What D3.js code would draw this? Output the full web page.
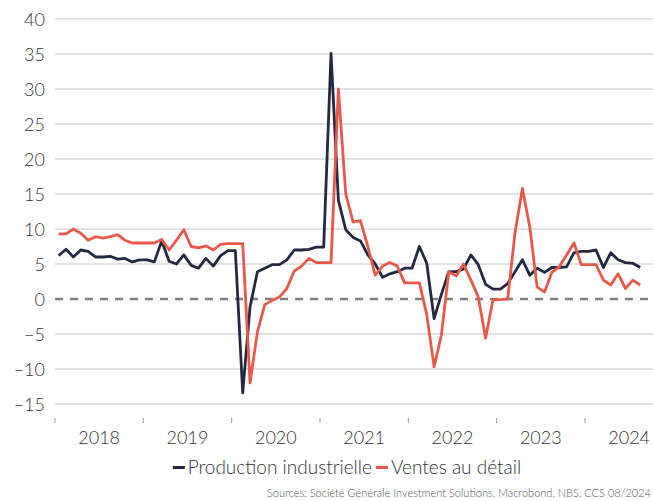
<!DOCTYPE html>
<html lang="fr">
<head>
<meta charset="utf-8" />
<script src="https://cdn.jsdelivr.net/npm/d3@7"></script>
<style>
  body { margin: 0; background: #fff; }
  text { font-family: Lato, "Open Sans", sans-serif; font-weight: 300; }
  .grid line { stroke: #c8c8c8; stroke-width: 1; }
</style>
</head>
<body>
<script>
// monthly data, Jan 2018 .. Aug 2024 (Jan carries the previous value)
var years = ["2018", "2019", "2020", "2021", "2022", "2023", "2024"];
var yTicks = [-15, -10, -5, 0, 5, 10, 15, 20, 25, 30, 35, 40];

var production = [
  6.2, 7.1, 6.0, 7.0, 6.8, 6.0, 6.0, 6.1, 5.7, 5.8, 5.3, 5.6,
  5.6, 5.3, 8.3, 5.4, 5.0, 6.3, 4.8, 4.4, 5.8, 4.7, 6.2, 6.9,
  6.9, -13.4, -1.1, 3.9, 4.4, 4.9, 4.9, 5.6, 7.0, 7.0, 7.1, 7.4,
  7.4, 35.1, 14.1, 9.9, 8.8, 8.3, 6.3, 5.0, 3.1, 3.6, 3.9, 4.4,
  4.4, 7.5, 5.1, -2.8, 0.7, 3.9, 3.9, 4.3, 6.3, 4.9, 2.1, 1.4,
  1.4, 2.2, 3.9, 5.6, 3.4, 4.4, 3.8, 4.5, 4.5, 4.6, 6.6, 6.8,
  6.8, 7.0, 4.5, 6.6, 5.6, 5.2, 5.1, 4.5
];

var retail = [
  9.3, 9.3, 10.0, 9.4, 8.4, 8.9, 8.7, 8.9, 9.2, 8.4, 8.0, 8.0,
  8.0, 8.0, 8.5, 7.0, 8.4, 9.9, 7.5, 7.3, 7.6, 7.0, 7.8, 7.9,
  7.9, 7.9, -12.0, -4.7, -0.8, -0.2, 0.3, 1.5, 4.0, 4.7, 5.8, 5.2,
  5.2, 5.2, 30.0, 15.0, 11.0, 11.2, 7.5, 3.4, 4.7, 5.2, 4.7, 2.3,
  2.3, 2.3, -2.2, -9.7, -5.1, 3.9, 3.3, 5.0, 2.7, 0.3, -5.6, -0.1,
  -0.1, 0.0, 9.5, 15.8, 10.3, 1.7, 1.0, 3.8, 4.6, 6.3, 8.0, 4.9,
  4.9, 4.9, 2.7, 2.0, 3.6, 1.5, 2.7, 2.0
];

var seriesNames = ["Production industrielle", "Ventes au d\u00e9tail"];
var colors = ["#232a40", "#e8594b"];
var source = "Sources: Soci\u00e9t\u00e9 G\u00e9n\u00e9rale Investment Solutions, Macrobond, NBS, CCS 08/2024";

var width = 653, height = 501;
var left = 55, monthW = 88.33 / 12;

var svg = d3.select("body").append("svg")
  .attr("width", width)
  .attr("height", height);

var x = d3.scaleLinear()
  .domain([0, years.length * 12])
  .range([left, left + years.length * 12 * monthW]);

var y = d3.scaleLinear()
  .domain([-15, 40])
  .range([404, 19]);

// gridlines
svg.append("g").attr("class", "grid")
  .selectAll("line")
  .data(yTicks.filter(function (d) { return d !== 0; }))
  .enter().append("line")
  .attr("x1", left).attr("x2", width)
  .attr("y1", function (d) { return y(d); })
  .attr("y2", function (d) { return y(d); });

// y labels
var yAxis = d3.axisLeft(y).tickValues(yTicks).tickSize(0).tickPadding(0);
var gy = svg.append("g").attr("transform", "translate(45,0)").call(yAxis);
gy.select(".domain").remove();
gy.selectAll("text")
  .attr("font-family", "Lato, sans-serif")
  .attr("font-size", 18)
  .attr("fill", "#333")
  .attr("dy", "0.34em");

// x ticks + year labels
var gx = svg.append("g");
gx.selectAll("line")
  .data(years)
  .enter().append("line")
  .attr("x1", function (d, i) { return x(i * 12); })
  .attr("x2", function (d, i) { return x(i * 12); })
  .attr("y1", 418).attr("y2", 423)
  .attr("stroke", "#999").attr("stroke-width", 1);
gx.selectAll("text")
  .data(years)
  .enter().append("text")
  .attr("x", function (d, i) { return x(i * 12 + 6); })
  .attr("y", 444)
  .attr("text-anchor", "middle")
  .attr("font-size", 18)
  .attr("fill", "#333")
  .text(function (d) { return d; });

// zero line
svg.append("line")
  .attr("x1", left).attr("x2", width)
  .attr("y1", y(0)).attr("y2", y(0))
  .attr("stroke", "#808080")
  .attr("stroke-width", 2.5)
  .attr("stroke-dasharray", "8,7");

var line = d3.line()
  .x(function (d, i) { return x(i + 0.5); })
  .y(function (d) { return y(d); });

[production, retail].forEach(function (s, k) {
  svg.append("path")
    .datum(s)
    .attr("fill", "none")
    .attr("stroke", colors[k])
    .attr("stroke-width", 2.8)
    .attr("stroke-linejoin", "round")
    .attr("d", line);
});

// legend
var lg = svg.append("g");
var cx = 0;
seriesNames.forEach(function (name, k) {
  lg.append("rect")
    .attr("x", cx).attr("y", 466)
    .attr("width", 12).attr("height", 3)
    .attr("fill", colors[k]);
  var t = lg.append("text")
    .attr("x", cx + 15).attr("y", 474)
    .attr("font-size", 19)
    .attr("fill", "#333")
    .text(name);
  cx += 15 + t.node().getComputedTextLength() + 4;
});
lg.attr("transform", "translate(" + (347 - (cx - 4) / 2) + ",0)");

svg.append("text")
  .attr("x", 651).attr("y", 497)
  .attr("text-anchor", "end")
  .attr("font-size", 11)
  .attr("fill", "#555")
  .text(source);
</script>
</body>
</html>
